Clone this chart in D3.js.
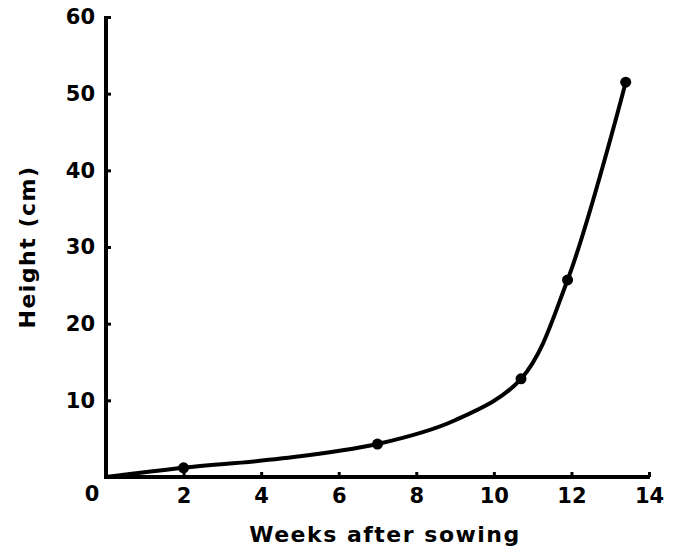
<!DOCTYPE html>
<html>
<head>
<meta charset="utf-8">
<script src="https://d3js.org/d3.v7.min.js"></script>
<style>
  body { margin: 0; background: #fff; }
  text { font-family: "DejaVu Sans", sans-serif; font-weight: bold; fill: #000; }
</style>
</head>
<body>
<div id="viz"></div>
<script>
// measured points (weeks, height cm)
var weeks = [2, 7, 10.7, 11.9, 13.4];
var heights = [1.2, 4.3, 12.8, 25.7, 51.5];

// fitted curve
var curveWeeks = [0, 2, 4.5, 7, 9, 10.7, 11.9, 13.4];
var curveHeights = [0, 1.2, 2.4, 4.3, 7.4, 12.8, 25.7, 51.5];

var xTicks = [2, 4, 6, 8, 10, 12, 14];
var yTicks = [10, 20, 30, 40, 50, 60];

var width = 677, height = 552;
var svg = d3.select("#viz").append("svg")
    .attr("width", width).attr("height", height);

var x = d3.scaleLinear().domain([0, 14]).range([106, 649]);
var y = d3.scaleLinear().domain([0, 60]).range([477, 17]);

// x axis
var xAxis = svg.append("g")
    .attr("transform", "translate(0," + y(0) + ")")
    .call(d3.axisBottom(x).tickValues(xTicks).tickSize(-5).tickPadding(11).tickSizeOuter(0));
xAxis.select(".domain").attr("stroke-width", 4).attr("d", "M" + (x(0) - 2) + ",0H" + (x(14) + 1));
xAxis.selectAll(".tick line").attr("stroke-width", 3);
xAxis.selectAll(".tick text").attr("font-size", 21).attr("font-family", null);

// y axis
var yAxis = svg.append("g")
    .attr("transform", "translate(" + x(0) + ",0)")
    .call(d3.axisLeft(y).tickValues(yTicks).tickSize(-5).tickPadding(11).tickSizeOuter(0));
yAxis.select(".domain").attr("stroke-width", 4).attr("d", "M0," + (y(0) + 2) + "V" + (y(60) - 1));
yAxis.selectAll(".tick line").attr("stroke-width", 3);
yAxis.selectAll(".tick text").attr("font-size", 21).attr("font-family", null);

// origin label
svg.append("text")
    .attr("x", x(0) - 14).attr("y", y(0) + 24)
    .attr("text-anchor", "middle").attr("font-size", 21)
    .text("0");

// curve
var line = d3.line()
    .x(function (d, i) { return x(curveWeeks[i]); })
    .y(function (d) { return y(d); })
    .curve(d3.curveCatmullRom.alpha(0.5));
svg.append("path")
    .datum(curveHeights)
    .attr("d", line)
    .attr("fill", "none")
    .attr("stroke", "#000")
    .attr("stroke-width", 4);

// points
svg.selectAll("circle.pt")
    .data(heights)
    .enter().append("circle")
    .attr("class", "pt")
    .attr("cx", function (d, i) { return x(weeks[i]); })
    .attr("cy", function (d) { return y(d); })
    .attr("r", 5.5)
    .attr("fill", "#000");

// axis titles
svg.append("text")
    .attr("x", 385).attr("y", 542)
    .attr("text-anchor", "middle").attr("font-size", 22)
    .attr("letter-spacing", 1.5)
    .text("Weeks after sowing");

svg.append("text")
    .attr("transform", "translate(35,247) rotate(-90)")
    .attr("text-anchor", "middle").attr("font-size", 22)
    .attr("letter-spacing", 1.5)
    .text("Height (cm)");
</script>
</body>
</html>
